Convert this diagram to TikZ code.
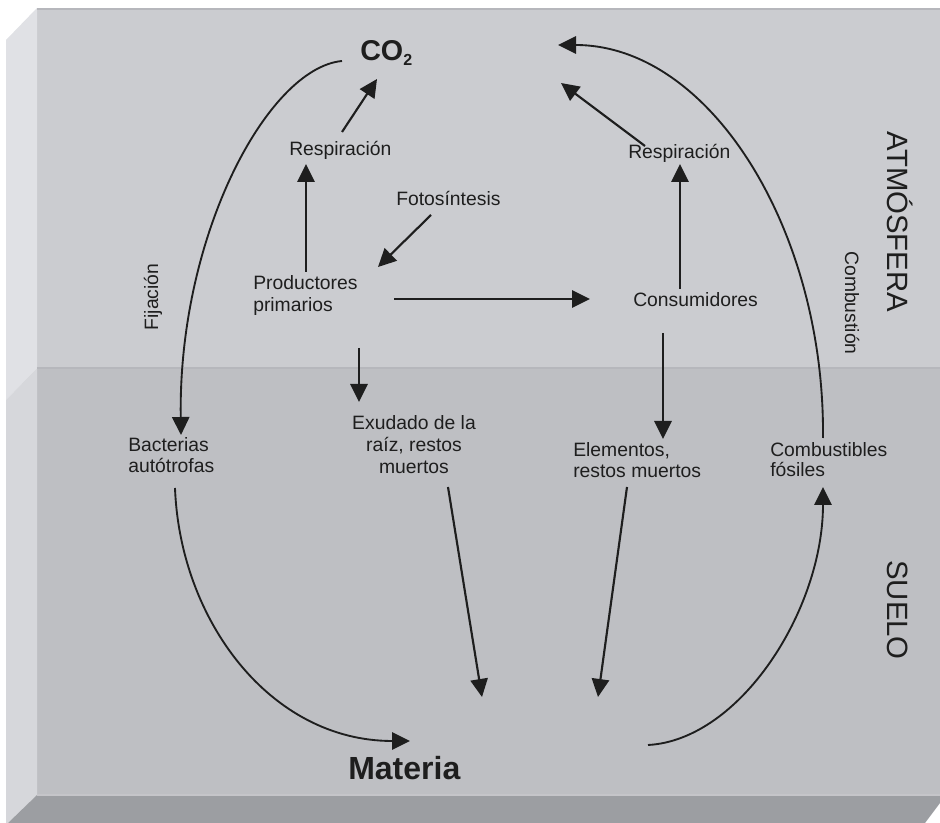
\documentclass[tikz,border=0pt]{standalone}
\usepackage{fontspec}
\setmainfont{Liberation Sans}
\usetikzlibrary{arrows.meta}
\definecolor{atm}{RGB}{203,204,208}
\definecolor{soil}{RGB}{190,191,195}
\definecolor{basecol}{RGB}{156,158,162}
\definecolor{sideup}{RGB}{224,225,229}
\definecolor{sidelow}{RGB}{214,215,219}
\definecolor{edgecol}{RGB}{182,183,188}
\definecolor{ink}{RGB}{30,30,30}
\begin{document}
\begin{tikzpicture}[x=0.75pt,y=-0.75pt,
  lbl/.style={anchor=base west, inner sep=0pt, text=ink, font=\fontsize{14.5}{16.5}\selectfont},
  clbl/.style={lbl, anchor=base},
  biglbl/.style={anchor=base, inner sep=0pt, text=ink, font=\fontsize{22}{24}\selectfont},
  flow/.style={draw=ink, line width=1.6pt, -{Triangle[length=13.5pt,width=13pt]}},
  curveflow/.style={flow, line width=1.4pt}]
\useasboundingbox (0,0) rectangle (940,823);
% block: front face, side face and base
\fill[atm] (37,8) rectangle (940,368);
\fill[soil] (37,368) rectangle (940,795);
\fill[sideup] (6,40) -- (37,8) -- (37,368) -- (6,400) -- cycle;
\fill[sidelow] (6,400) -- (37,368) -- (37,795) -- (8,823) -- (6,823) -- cycle;
\fill[basecol] (37,795) -- (940,795) -- (940,803) -- (925,823) -- (8,823) -- cycle;
\draw[edgecol, line width=1.6pt] (37,9) -- (940,9);
\draw[edgecol, line width=1.6pt] (37,368) -- (940,368);
\draw[edgecol!80!white, line width=1pt] (37,795) -- (940,795);

% labels
\node[anchor=base west, inner sep=0pt, text=ink, font=\bfseries\fontsize{21.5}{24}\selectfont] (co2) at (360,61)
  {CO{\fontsize{12}{12}\selectfont\raisebox{-3.75pt}{2}}};
\node[lbl] (resp1) at (289,156) {Respiración};
\node[lbl] (fot) at (396,206) {Fotosíntesis};
\node[lbl] (prodA) at (253,290) {Productores};
\node[lbl] (prodB) at (253,312) {primarios};
\node[lbl] (cons) at (633,307) {Consumidores};
\node[lbl] (resp2) at (628,159) {Respiración};
\node[lbl] (bactA) at (128,452) {Bacterias};
\node[lbl] (bactB) at (128,473) {autótrofas};
\node[clbl] (exA) at (414,430) {Exudado de la};
\node[clbl] (exB) at (414,452) {raíz, restos};
\node[clbl] (exC) at (414,474) {muertos};
\node[lbl] (elA) at (573,457) {Elementos,};
\node[lbl] (elB) at (573,478) {restos muertos};
\node[lbl] (cbA) at (770,457) {Combustibles};
\node[lbl] (cbB) at (770,477) {fósiles};
\node[anchor=base west, inner sep=0pt, text=ink, font=\bfseries\fontsize{24}{26}\selectfont] (mat) at (348,779) {Materia};
\node[clbl, rotate=90] (fij) at (158,297) {Fijación};
\node[clbl, rotate=-90] (comb) at (845,303) {Combustión};
\node[biglbl, rotate=-90] (atmo) at (887,222) {ATMÓSFERA};
\node[biglbl, rotate=-90] (suelo) at (887,610) {SUELO};

% connector ends
\coordinate (fixS) at (342,61);   \coordinate (fixE) at (181,435);
\coordinate (r1S) at (342,132);   \coordinate (r1E) at (377,79);
\coordinate (pS) at (306,272);    \coordinate (pE) at (306,164);
\coordinate (fS) at (431,215);    \coordinate (fE) at (378,267);
\coordinate (pcS) at (394,299);   \coordinate (pcE) at (590,299);
\coordinate (cS) at (680,289);    \coordinate (cE) at (680,164);
\coordinate (r2S) at (645,146);   \coordinate (r2E) at (561,83);
\coordinate (kS) at (823,438);    \coordinate (kE) at (558,45);
\coordinate (pdS) at (359,348);   \coordinate (pdE) at (359,402);
\coordinate (cdS) at (663,333);   \coordinate (cdE) at (663,439);
\coordinate (xS) at (448,487);    \coordinate (xE) at (482,697);
\coordinate (eS) at (627,487);    \coordinate (eE) at (598,697);
\coordinate (bS) at (175,488);    \coordinate (bE) at (410,741);
\coordinate (mS) at (648,745);    \coordinate (mE) at (823,487);

% flows
\draw[curveflow] (fixS) .. controls (268,68) and (178,235) .. (fixE);
\draw[flow] (r1S) -- (r1E);
\draw[flow] (pS) -- (pE);
\draw[flow] (fS) -- (fE);
\draw[flow] (pcS) -- (pcE);
\draw[flow] (cS) -- (cE);
\draw[flow] (r2S) -- (r2E);
\draw[curveflow] (kS) .. controls (825,230) and (710,45) .. (kE);
\draw[flow] (pdS) -- (pdE);
\draw[flow] (cdS) -- (cdE);
\draw[flow] (xS) -- (xE);
\draw[flow] (eS) -- (eE);
\draw[curveflow] (bS) .. controls (180,620) and (270,741) .. (bE);
\draw[curveflow] (mS) .. controls (740,740) and (823,610) .. (mE);
\end{tikzpicture}
\end{document}
